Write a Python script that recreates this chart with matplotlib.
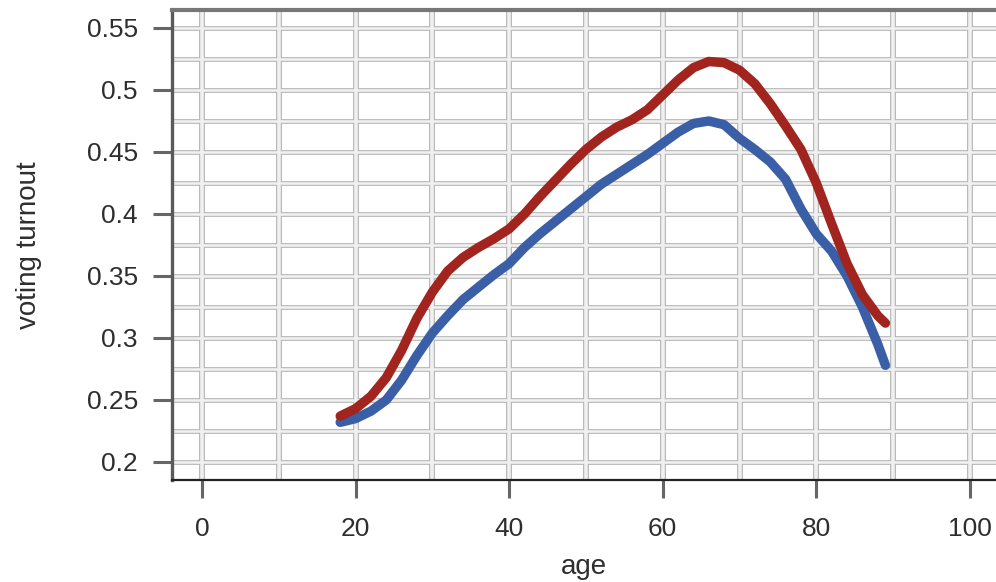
import matplotlib
matplotlib.use("Agg")
import matplotlib.pyplot as plt
from matplotlib.ticker import MultipleLocator

plt.rcParams['font.family'] = ['Liberation Sans', 'DejaVu Sans']

# edades y participacion
edad = [18, 20, 22, 24, 26, 28, 30, 32, 34, 36, 38, 40, 42, 44, 46, 48, 50, 52,
        54, 56, 58, 60, 62, 64, 66, 68, 70, 72, 74, 76, 78, 80, 82, 84, 86, 88, 89]

turnout_rojo = [0.237, 0.243, 0.253, 0.268, 0.290, 0.316, 0.337, 0.354, 0.365, 0.373,
                0.380, 0.388, 0.400, 0.414, 0.427, 0.440, 0.452, 0.462, 0.470, 0.476,
                0.484, 0.496, 0.508, 0.518, 0.523, 0.522, 0.516, 0.505, 0.489, 0.471,
                0.452, 0.425, 0.392, 0.360, 0.335, 0.318, 0.312]

turnout_azul = [0.232, 0.235, 0.241, 0.250, 0.266, 0.286, 0.304, 0.318, 0.331, 0.341,
                0.351, 0.360, 0.373, 0.384, 0.394, 0.404, 0.414, 0.424, 0.432, 0.440,
                0.448, 0.457, 0.466, 0.473, 0.475, 0.472, 0.461, 0.452, 0.442, 0.428,
                0.404, 0.384, 0.370, 0.350, 0.325, 0.295, 0.278]

xticks = [0, 20, 40, 60, 80, 100]
yticks = [0.2, 0.25, 0.3, 0.35, 0.4, 0.45, 0.5, 0.55]
yticklabels = ['0.2', '0.25', '0.3', '0.35', '0.4', '0.45', '0.5', '0.55']

fig = plt.figure(figsize=(9.96, 5.82), dpi=100)
ax = fig.add_axes([0.1727, 0.1753, 0.8273, 0.8075])

ax.set_xlim(-3.9, 103.4)
ax.set_ylim(0.1855, 0.5645)

ax.set_xticks(xticks)
ax.set_yticks(yticks)
ax.set_yticklabels(yticklabels)
ax.xaxis.set_minor_locator(MultipleLocator(10))
ax.yaxis.set_minor_locator(MultipleLocator(0.025))

# rejilla con efecto de borde (linea gris ancha + centro claro)
for which in ['major', 'minor']:
    for xv in (ax.get_xticks(minor=(which == 'minor'))):
        ax.axvline(xv, color='#b4b4b4', lw=4.2, zorder=0)
        ax.axvline(xv, color='#f0f0f0', lw=2.6, zorder=0.5)
    for yv in (ax.get_yticks(minor=(which == 'minor'))):
        ax.axhline(yv, color='#b4b4b4', lw=3.4, zorder=0)
        ax.axhline(yv, color='#f0f0f0', lw=1.9, zorder=0.5)

ax.plot(edad, turnout_azul, color='#3b5fa6', lw=6.8, solid_capstyle='round',
        solid_joinstyle='round', zorder=3)
ax.plot(edad, turnout_rojo, color='#a2241f', lw=6.8, solid_capstyle='round',
        solid_joinstyle='round', zorder=4)

ax.spines['right'].set_visible(False)
ax.spines['left'].set_color('#5a5a5a')
ax.spines['left'].set_linewidth(2.4)
ax.spines['top'].set_color('#777777')
ax.spines['top'].set_linewidth(3)
ax.spines['bottom'].set_color('#222222')
ax.spines['bottom'].set_linewidth(1.6)

ax.tick_params(which='minor', length=0)
ax.tick_params(axis='y', which='major', length=13.5, width=2.2, color='#666666',
               labelsize=19, labelcolor='#2e2e2e', pad=11)
ax.tick_params(axis='x', which='major', length=13, width=2.2, color='#666666',
               labelsize=19, labelcolor='#2e2e2e', pad=14)

ax.set_xlabel('age', fontsize=20, color='#2e2e2e', labelpad=9)
ax.set_ylabel('voting turnout', fontsize=20, color='#2e2e2e', labelpad=32)

fig.savefig('out.png', dpi=100)
